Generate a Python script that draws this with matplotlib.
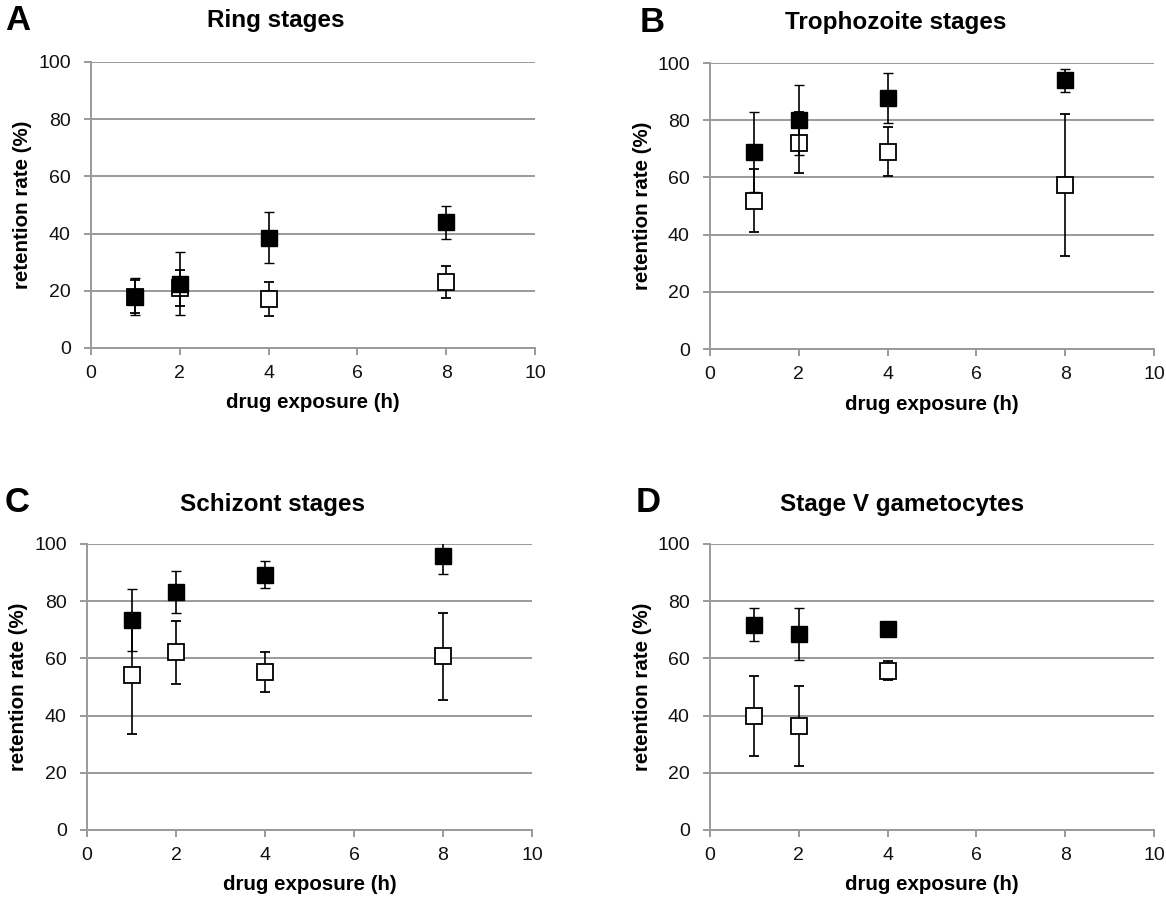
import matplotlib
matplotlib.use("Agg")
import matplotlib.pyplot as plt

plt.rcParams['font.family'] = ['Liberation Sans', 'DejaVu Sans']

W, H = 1166, 902

panel_letters = ["A", "B", "C", "D"]
panel_titles = ["Ring stages", "Trophozoite stages", "Schizont stages", "Stage V gametocytes"]

x_A = [1, 2, 4, 8]
x_B = [1, 2, 4, 8]
x_C = [1, 2, 4, 8]
x_D = [1, 2, 4]

filled_A = [18.0, 22.4, 38.6, 44.0]
filled_A_err = [6.5, 11.0, 9.0, 5.8]
open_A = [18.0, 21.1, 17.2, 23.0]
open_A_err = [5.7, 6.3, 6.0, 5.5]

filled_B = [69.0, 80.1, 87.7, 94.0]
filled_B_err = [14.0, 12.2, 8.8, 4.0]
open_B = [51.8, 72.2, 69.0, 57.2]
open_B_err = [11.0, 10.8, 8.6, 24.8]

filled_C = [73.5, 83.1, 89.3, 95.7]
filled_C_err = [10.8, 7.4, 4.7, 6.2]
open_C = [54.3, 62.1, 55.4, 60.7]
open_C_err = [20.7, 10.9, 7.0, 15.1]

filled_D = [71.8, 68.6, 70.4]
filled_D_err = [5.8, 9.0, 0.0]
open_D = [39.9, 36.5, 55.7]
open_D_err = [14.1, 14.0, 3.3]

x_ticks = [0, 2, 4, 6, 8, 10]
y_ticks = [0, 20, 40, 60, 80, 100]
x_label = "drug exposure (h)"
y_label = "retention rate (%)"

panels = [
    (x_A, filled_A, filled_A_err, open_A, open_A_err),
    (x_B, filled_B, filled_B_err, open_B, open_B_err),
    (x_C, filled_C, filled_C_err, open_C, open_C_err),
    (x_D, filled_D, filled_D_err, open_D, open_D_err),
]

# axes boxes in pixels: left, top, right, bottom
boxes = [(91, 62, 535, 348), (710, 63, 1154, 349), (87, 544, 532, 830), (710, 544, 1154, 830)]
title_pos = [(276, 20), (896, 22), (272, 505), (902, 505)]
letter_pos = [(5, 20), (640, 22), (5, 503), (636, 503)]

fig = plt.figure(figsize=(W / 100, H / 100), dpi=100)
grey = "#9a9a9a"

for i, (xs, fv, fe, ov, oe) in enumerate(panels):
    l, t, r, b = boxes[i]
    ax = fig.add_axes([l / W, 1 - b / H, (r - l) / W, (b - t) / H])
    ax.set_xlim(0, 10)
    ax.set_ylim(0, 100)
    ax.set_xticks(x_ticks)
    ax.set_yticks(y_ticks)
    ax.yaxis.grid(True, color=grey, lw=1.4)
    ax.set_axisbelow(True)
    for s in ["top", "right"]:
        ax.spines[s].set_visible(False)
    for s in ["left", "bottom"]:
        ax.spines[s].set_color(grey)
        ax.spines[s].set_linewidth(1.4)
    ax.tick_params(axis="both", direction="out", length=5, width=1.4, color=grey,
                   labelsize=14, labelcolor="#111111")
    ax.tick_params(axis="y", pad=9.5)
    ax.tick_params(axis="x", pad=7)
    ax.errorbar(xs, ov, yerr=oe, fmt="s", ms=11, mfc="white", mec="black", mew=1.3,
                ecolor="black", elinewidth=1.2, capsize=3.6, capthick=1.2, zorder=3, clip_on=True)
    ax.errorbar(xs, fv, yerr=fe, fmt="s", ms=11.5, mfc="black", mec="black", mew=1.0,
                ecolor="black", elinewidth=1.2, capsize=3.6, capthick=1.2, zorder=4, clip_on=True)
    # axis labels placed like the reference
    fig.text((l + r) / 2 / W, 1 - (b + 55) / H, x_label, fontsize=14.8, fontweight="bold",
             ha="center", va="center")
    fig.text((l - 68) / W, 1 - (t + b) / 2 / H, y_label, fontsize=14.8, fontweight="bold",
             ha="center", va="center", rotation=90)
    tx, ty = title_pos[i]
    fig.text(tx / W, 1 - ty / H, panel_titles[i], fontsize=17.5, fontweight="bold",
             ha="center", va="center")
    lx, ly = letter_pos[i]
    fig.text(lx / W, 1 - ly / H, panel_letters[i], fontsize=25, fontweight="bold",
             ha="left", va="center")

fig.savefig("out.png", dpi=100, facecolor="white")
